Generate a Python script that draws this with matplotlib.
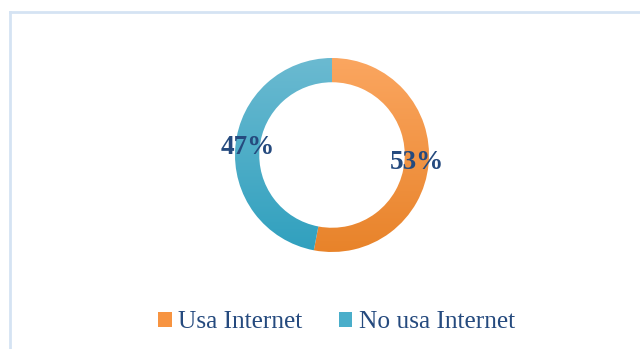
import matplotlib.pyplot as plt
import numpy as np
from matplotlib.colors import LinearSegmentedColormap
from matplotlib.lines import Line2D
from matplotlib.patches import Patch

# share of people who use the internet
labels = ['Usa Internet', 'No usa Internet']
values = [53, 47]
top_colors = ['#FBA660', '#6BBAD1']
bottom_colors = ['#E8832A', '#30A0BE']
legend_colors = ['#F79441', '#4AAECA']
text_color = '#254A7E'

fig = plt.figure(figsize=(6.4, 3.49), dpi=100)

# light blue frame on the left and top edges
fig.add_artist(Line2D([9.5 / 640, 9.5 / 640], [0, 1 - 11.5 / 349],
                      transform=fig.transFigure, color='#D5E3F3', lw=2))
fig.add_artist(Line2D([9.5 / 640, 1], [1 - 11.5 / 349, 1 - 11.5 / 349],
                      transform=fig.transFigure, color='#D5E3F3', lw=2))

cx, cy, r = 332, 155, 97
ax = fig.add_axes([(cx - r) / 640, (349 - cy - r) / 349, 2 * r / 640, 2 * r / 349])

wedges, texts, autotexts = ax.pie(
    values, startangle=90, counterclock=False, radius=1.0,
    autopct='%.0f%%', pctdistance=0.875,
    wedgeprops=dict(width=0.25, linewidth=0),
    textprops=dict(color=text_color, fontsize=19.5, fontweight='bold',
                   family='Liberation Serif'))

# vertical gradient fill in each ring segment
grad = np.linspace(0, 1, 256).reshape(-1, 1)
for w, c_top, c_bot in zip(wedges, top_colors, bottom_colors):
    cmap = LinearSegmentedColormap.from_list('g', [c_top, c_bot])
    w.set_facecolor('none')
    im = ax.imshow(grad, cmap=cmap, aspect='auto', extent=[-1, 1, -1, 1],
                   origin='upper', zorder=0.5)
    im.set_clip_path(w)

ax.set_xlim(-1, 1)
ax.set_ylim(-1, 1)
ax.set_aspect('equal')
ax.axis('off')

handles = [Patch(facecolor=c, edgecolor='none') for c in legend_colors]
leg = fig.legend(handles, labels, loc='center', bbox_to_anchor=(0.526, 0.077),
                 ncol=2, frameon=False, handlelength=0.52, handleheight=0.52,
                 handletextpad=0.25, columnspacing=1.45,
                 prop=dict(family='Liberation Serif', size=18.3))
for t in leg.get_texts():
    t.set_color(text_color)

fig.savefig('out.png', dpi=100)
